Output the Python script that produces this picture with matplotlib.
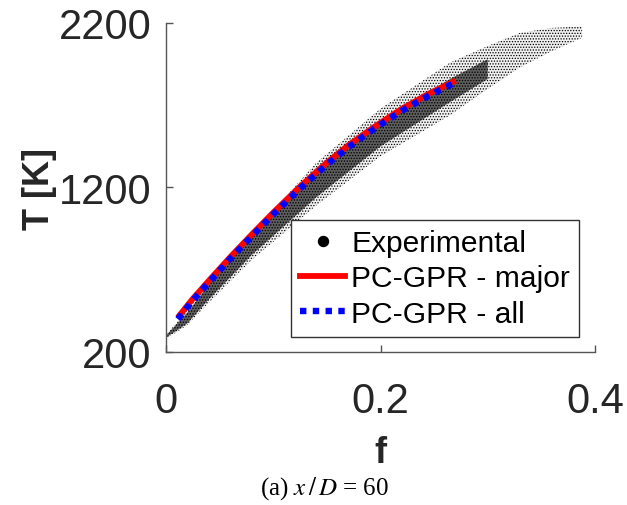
import matplotlib
matplotlib.use("Agg")
import matplotlib.pyplot as plt
from matplotlib.lines import Line2D

# ---- data ----
# PC-GPR predictions (mixture fraction f vs temperature T)
f_major = [0.011, 0.025, 0.04, 0.06, 0.08, 0.10, 0.125, 0.15, 0.17, 0.195, 0.22, 0.245, 0.27]
T_major = [410, 524, 634, 778, 915, 1048, 1206, 1352, 1457, 1572, 1679, 1770, 1850]
f_all = [0.011, 0.025, 0.04, 0.06, 0.08, 0.10, 0.125, 0.15, 0.17, 0.195, 0.22, 0.245, 0.27]
T_all = [400, 514, 624, 768, 904, 1037, 1195, 1340, 1445, 1561, 1667, 1758, 1840]

# Experimental scatter cloud: outer (sparse) envelope and dense core
f_env = [0.0, 0.01, 0.02, 0.04, 0.08, 0.14, 0.20, 0.265, 0.30, 0.33, 0.36, 0.388]
T_env_lo = [285, 320, 365, 500, 760, 1090, 1390, 1640, 1800, 1930, 2030, 2110]
T_env_hi = [305, 380, 460, 625, 915, 1350, 1680, 1960, 2060, 2140, 2170, 2180]
f_core = [0.0, 0.01, 0.02, 0.04, 0.08, 0.14, 0.20, 0.265, 0.30]
T_core_lo = [288, 330, 375, 520, 790, 1140, 1450, 1720, 1860]
T_core_hi = [300, 370, 440, 610, 900, 1290, 1610, 1860, 1980]

x_ticks = [0, 0.2, 0.4]
x_ticklabels = ["0", "0.2", "0.4"]
y_ticks = [200, 1200, 2200]
y_ticklabels = ["200", "1200", "2200"]

plt.rcParams['font.family'] = ['Liberation Sans', 'DejaVu Sans']
plt.rcParams['mathtext.fontset'] = 'stix'
plt.rcParams['hatch.linewidth'] = 0.6

fig = plt.figure(figsize=(6.27, 5.06), dpi=100)
ax = fig.add_axes([0.2648, 0.3024, 0.6842, 0.6502])

ax.fill_between(f_env, T_env_lo, T_env_hi, facecolor='#f0f0f0', edgecolor='black',
                hatch='......', linewidth=0)
ax.fill_between(f_core, T_core_lo, T_core_hi, facecolor='#444444', edgecolor='black',
                hatch='......', linewidth=0, alpha=0.85)

ax.plot(f_major, T_major, color='red', lw=4.2, solid_capstyle='butt')
ax.plot(f_all, T_all, color='blue', lw=4.6, linestyle=(0, (1, 1)), dash_capstyle='butt')

ax.set_xlim(0, 0.4)
ax.set_ylim(200, 2200)
ax.set_xticks(x_ticks)
ax.set_xticklabels(x_ticklabels)
ax.set_yticks(y_ticks)
ax.set_yticklabels(y_ticklabels)

for s in ['top', 'right']:
    ax.spines[s].set_visible(False)
for s in ['left', 'bottom']:
    ax.spines[s].set_color('#555555')
    ax.spines[s].set_linewidth(1.0)

ax.tick_params(direction='in', length=5, width=1.0, color='#555555',
               labelsize=30, labelcolor='#262626')
ax.tick_params(axis='x', pad=21)
ax.tick_params(axis='y', pad=10.5)

ax.set_xlabel('f', fontsize=26, fontweight='bold', color='#262626')
ax.xaxis.set_label_coords(0.5, -0.334)
ax.xaxis.label.set_verticalalignment('baseline')
ax.set_ylabel('T [K]', fontsize=26, fontweight='bold', color='#262626')
ax.yaxis.set_label_coords(-0.295, 0.498)
ax.yaxis.label.set_verticalalignment('center')

handles = [
    Line2D([], [], color='black', marker='o', linestyle='none', markersize=7.2),
    Line2D([], [], color='red', lw=4.2),
    Line2D([], [], color='blue', lw=4.6, linestyle=(0, (1, 1)), dash_capstyle='butt'),
]
labels = ['Experimental', 'PC-GPR - major', 'PC-GPR - all']
leg = ax.legend(handles, labels, loc='lower right', bbox_to_anchor=(0.963, 0.0465),
                fontsize=21.6, frameon=True, fancybox=False, framealpha=1,
                edgecolor='#333333', handlelength=1.5, handletextpad=0.2,
                labelspacing=0.24, borderpad=0.3, borderaxespad=0)
leg.get_frame().set_linewidth(1.0)

fig.text(0.518, 0.0336, r'(a) $x\,/\,D$ = 60', fontsize=18, family='Liberation Serif',
         ha='center', va='center')

fig.savefig('out.png', dpi=100)
